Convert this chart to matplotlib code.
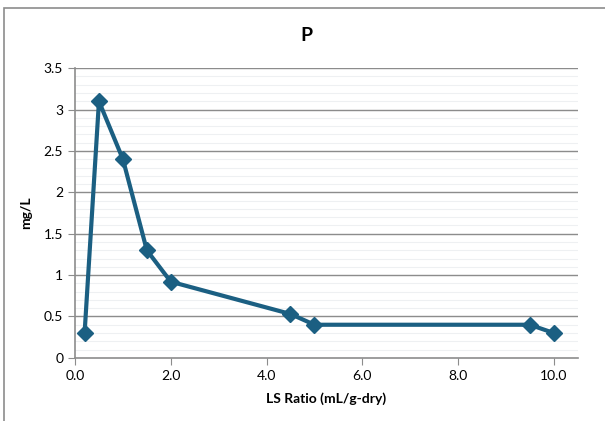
import numpy as np
import matplotlib.pyplot as plt
from matplotlib.patches import Rectangle

# data
ls_ratio = [0.2, 0.5, 1.0, 1.5, 2.0, 4.5, 5.0, 9.5, 10.0]
conc_p = [0.3, 3.1, 2.4, 1.3, 0.92, 0.53, 0.4, 0.4, 0.3]
x_ticks = [0, 2, 4, 6, 8, 10]
y_ticks = [0, 0.5, 1, 1.5, 2, 2.5, 3, 3.5]

plt.rcParams['font.family'] = ['Lato', 'DejaVu Sans']

fig = plt.figure(figsize=(6.05, 4.21), dpi=100)
ax = fig.add_axes([0.124, 0.150, 0.831, 0.688])

# chart border (cropped on right/bottom)
fig.patches.append(Rectangle((4 / 605, -0.1), 1.2, 1 - 8 / 421 + 0.1,
                             transform=fig.transFigure, fill=False,
                             edgecolor='#8c8c8c', linewidth=1.2))

# minor + major horizontal gridlines
for y in np.arange(0.1, 3.5, 0.1):
    ax.axhline(y, color='#eef0f2', linewidth=0.8, zorder=0)
for y in y_ticks[1:]:
    ax.axhline(y, color='#8c8c8c', linewidth=1.0, zorder=1)

ax.plot(ls_ratio, conc_p, color='#1b5f82', linewidth=3, marker='D',
        markersize=8, zorder=3)

ax.set_xlim(0, 10.5)
ax.set_ylim(0, 3.5)
ax.set_xticks(x_ticks)
ax.set_xticklabels([f'{v:.1f}' for v in x_ticks])
ax.set_yticks(y_ticks)
ax.set_yticklabels(['0', '0.5', '1', '1.5', '2', '2.5', '3', '3.5'])
ax.tick_params(labelsize=10, color='#8c8c8c', length=5, direction='out')

for side in ['top', 'right']:
    ax.spines[side].set_visible(False)
for side in ['left', 'bottom']:
    ax.spines[side].set_color('#8c8c8c')
    ax.spines[side].set_linewidth(1.2)

ax.set_xlabel('LS Ratio (mL/g-dry)', fontsize=10, fontweight='bold', labelpad=8)
ax.set_ylabel('mg/L', fontsize=10, fontweight='bold', labelpad=8)
fig.text(0.506, 0.915, 'P', fontsize=14, fontweight='bold', ha='center', va='center')

fig.savefig('out.png', dpi=100)
